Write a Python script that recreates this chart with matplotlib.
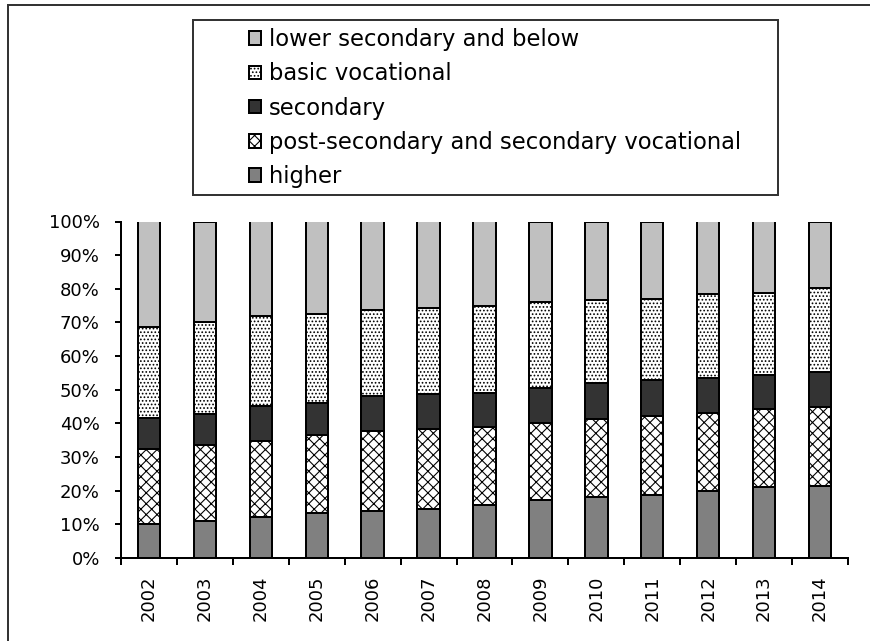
import numpy as np
import matplotlib
matplotlib.use("Agg")
import matplotlib.pyplot as plt
from matplotlib.lines import Line2D
from matplotlib.patches import Rectangle
from matplotlib.ticker import PercentFormatter

# years on the x axis
years = ["2002", "2003", "2004", "2005", "2006", "2007", "2008",
         "2009", "2010", "2011", "2012", "2013", "2014"]

# shares of each education level (%), bottom to top
higher = [10.0, 10.9, 12.1, 13.3, 13.9, 14.6, 15.8, 17.1, 18.1, 18.8, 20.0, 21.0, 21.5]
post_secondary = [22.5, 22.6, 22.8, 23.3, 23.8, 23.6, 23.1, 23.0, 23.1, 23.3, 23.2, 23.4, 23.4]
secondary = [9.1, 9.4, 10.2, 9.6, 10.4, 10.4, 10.2, 10.4, 10.9, 10.7, 10.3, 10.1, 10.4]
basic_vocational = [27.1, 27.3, 26.8, 26.3, 25.6, 25.6, 25.8, 25.6, 24.5, 24.3, 24.9, 24.4, 24.8]
lower_secondary = [31.3, 29.8, 28.1, 27.5, 26.3, 25.8, 25.1, 23.9, 23.4, 22.9, 21.6, 21.1, 19.9]

series = [
    ("higher", higher, "#808080", None),
    ("post-secondary and secondary vocational", post_secondary, "white", "xxxx"),
    ("secondary", secondary, "#333333", None),
    ("basic vocational", basic_vocational, "white", "......"),
    ("lower secondary and below", lower_secondary, "#c0c0c0", None),
]

DPI = 130
W, H = 870, 641

plt.rcParams["font.family"] = "DejaVu Sans"
plt.rcParams["hatch.linewidth"] = 0.6

fig = plt.figure(figsize=(W / DPI, H / DPI), dpi=DPI)
ax = fig.add_axes([121 / W, 1 - 558 / H, 727 / W, 336.5 / H])

x = np.arange(len(years))
bottom = np.zeros(len(years))
handles = []
for label, values, color, hatch in series:
    bars = ax.bar(x, values, width=0.4, bottom=bottom, color=color,
                  edgecolor="black", linewidth=1.1, hatch=hatch, label=label)
    handles.append(bars)
    bottom += np.array(values)

ax.set_xlim(-0.5, len(years) - 0.5)
ax.set_ylim(0, 100)
ax.set_yticks(np.arange(0, 101, 10))
ax.yaxis.set_major_formatter(PercentFormatter(decimals=0))

# category ticks between bars, labels centred under bars
ax.set_xticks(np.arange(-0.5, len(years), 1))
ax.set_xticklabels([])
ax.set_xticks(x, minor=True)
ax.set_xticklabels(years, minor=True, rotation=90)
ax.tick_params(axis="x", which="minor", length=0, pad=9.5, labelsize=10)
ax.tick_params(axis="x", which="major", length=3.6, width=1.1, direction="out")
ax.tick_params(axis="y", length=3.2, width=1.1, pad=8.5, labelsize=10)

for side in ["top", "right"]:
    ax.spines[side].set_visible(False)
for side in ["left", "bottom"]:
    ax.spines[side].set_linewidth(1.1)
    ax.spines[side].set_color("black")

# legend inside its own box, reversed order
leg = ax.legend(handles[::-1], [s[0] for s in series][::-1],
                loc="upper left", bbox_to_anchor=(249 / W, 1 - 28 / H),
                bbox_transform=fig.transFigure, frameon=False, fontsize=12.5,
                handlelength=0.55, handleheight=0.55, handletextpad=0.35,
                labelspacing=0.5, borderpad=0, borderaxespad=0)

fig.add_artist(Rectangle((193 / W, 1 - 195 / H), 585 / W, 175 / H,
                         transform=fig.transFigure, fill=False,
                         edgecolor="#333333", linewidth=1.1))

# outer chart frame (left and top edges visible)
fig.add_artist(Line2D([8 / W, 8 / W], [0, 1 - 5 / H], transform=fig.transFigure,
                      color="#333333", linewidth=1.1))
fig.add_artist(Line2D([8 / W, 1], [1 - 5 / H, 1 - 5 / H], transform=fig.transFigure,
                      color="#333333", linewidth=1.1))

fig.savefig("out.png", dpi=DPI)
